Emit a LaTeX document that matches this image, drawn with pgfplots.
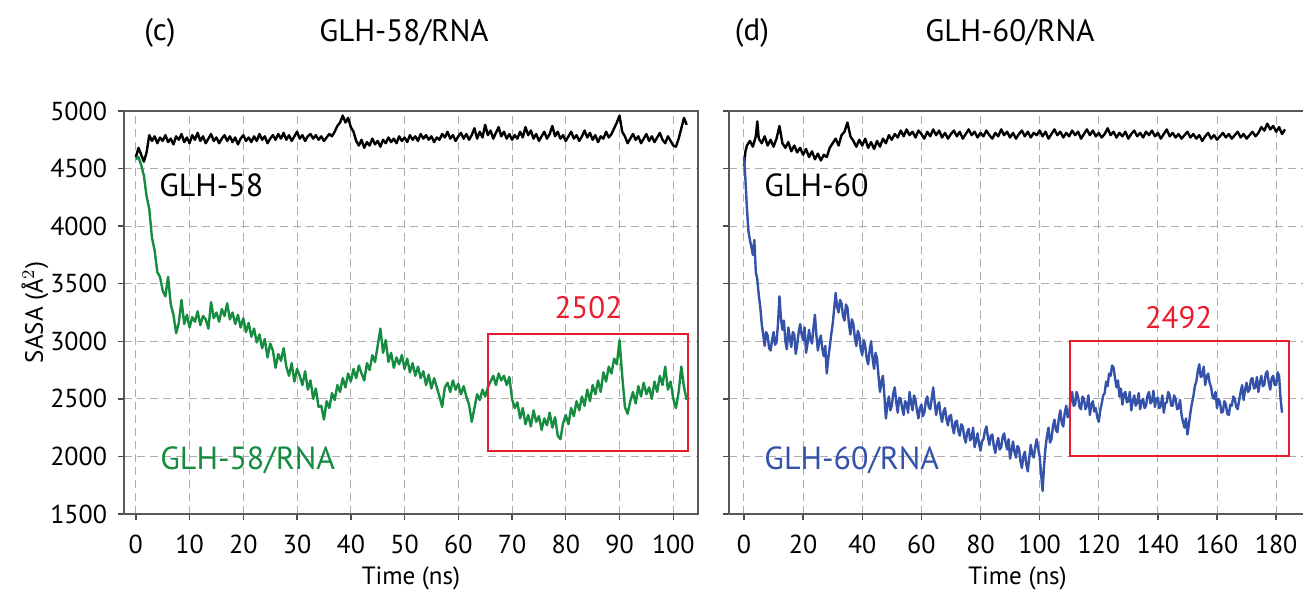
\documentclass[border=0pt]{standalone}
\usepackage{fontspec}
\setmainfont{PT Sans}
\usepackage{pgfplots}
\pgfplotsset{compat=1.18}

\definecolor{glhgreen}{RGB}{22,140,64}
\definecolor{glhblue}{RGB}{52,82,170}
\definecolor{boxred}{RGB}{232,30,48}

\pgfplotsset{
  sasa/.style={
    scale only axis,
    height=201.5pt,
    ymin=1500, ymax=5000,
    ytick={1500,2000,2500,3000,3500,4000,4500,5000},
    axis line style={black!65, line width=0.8pt},
    tick style={black!70, line width=0.7pt},
    tick align=outside,
    major tick length=3pt,
    xtick pos=bottom, ytick pos=left,
    grid=major,
    grid style={black!32, dash pattern=on 4pt off 2.5pt, line width=0.5pt},
    tick label style={font=\fontsize{13}{15}\selectfont},
    xticklabel style={yshift=-4pt},
    yticklabel style={xshift=-2pt},
    /pgf/number format/assume math mode=true,
    /pgf/number format/1000 sep={},
    xlabel style={font=\fontsize{12.5}{14}\selectfont, at={(axis description cs:0.5,0)}, anchor=center, yshift=-32pt},
    clip=false,
  },
  trace/.style={line width=1.2pt, line join=round},
}

\begin{document}
\begin{tikzpicture}
\useasboundingbox (-62pt,-40pt) rectangle (589.5pt,257pt);

% titles
\node[font=\fontsize{15.5}{17}\selectfont] at (18pt,240.5pt) {(c)};
\node[font=\fontsize{15.5}{17}\selectfont] at (140pt,240.5pt) {GLH-58/RNA};
\node[font=\fontsize{15.5}{17}\selectfont] at (314pt,240.5pt) {(d)};
\node[font=\fontsize{15.5}{17}\selectfont] at (443pt,240.5pt) {GLH-60/RNA};

% (c) GLH-58
\begin{axis}[sasa,
  at={(0pt,0pt)}, anchor=south west,
  width=287pt,
  xmin=-2.2, xmax=104.6,
  xtick={0,10,...,100},
  xlabel={Time (ns)},
  ylabel={SASA (Å$^{2}$)},
  ylabel style={font=\fontsize{12.5}{14}\selectfont, at={(axis description cs:0,0.5)}, anchor=center, yshift=44.5pt},
]
\addplot[black, trace] coordinates {
(0,4600)(0.5,4680)(1,4620)(1.5,4560)(2,4640)(2.5,4790)(3,4740)(3.5,4780)(4,4720)(4.5,4770)
(5,4740)(5.5,4790)(6,4730)(6.5,4760)(7,4710)(7.5,4780)(8,4750)(8.5,4800)(9,4730)(9.5,4770)
(10,4720)(10.5,4790)(11,4750)(11.5,4810)(12,4740)(12.5,4780)(13,4720)(13.5,4760)(14,4800)(14.5,4740)
(15,4770)(15.5,4720)(16,4760)(16.5,4790)(17,4740)(17.5,4780)(18,4730)(18.5,4770)(19,4710)(19.5,4760)
(20,4790)(20.5,4740)(21,4770)(21.5,4730)(22,4780)(22.5,4740)(23,4800)(23.5,4750)(24,4780)(24.5,4720)
(25,4760)(25.5,4790)(26,4750)(26.5,4800)(27,4760)(27.5,4810)(28,4750)(28.5,4790)(29,4740)(29.5,4780)
(30,4820)(30.5,4760)(31,4790)(31.5,4740)(32,4780)(32.5,4800)(33,4760)(33.5,4790)(34,4750)(34.5,4780)
(35,4740)(35.5,4770)(36,4800)(36.5,4780)(37,4820)(37.5,4870)(38,4900)(38.5,4960)(39,4900)(39.5,4940)
(40,4860)(40.5,4820)(41,4740)(41.5,4700)(42,4750)(42.5,4680)(43,4730)(43.5,4700)(44,4760)(44.5,4710)
(45,4740)(45.5,4690)(46,4750)(46.5,4720)(47,4770)(47.5,4730)(48,4760)(48.5,4720)(49,4780)(49.5,4740)
(50,4770)(50.5,4730)(51,4790)(51.5,4750)(52,4780)(52.5,4740)(53,4800)(53.5,4760)(54,4790)(54.5,4750)
(55,4780)(55.5,4730)(56,4770)(56.5,4750)(57,4800)(57.5,4770)(58,4820)(58.5,4760)(59,4790)(59.5,4740)
(60,4780)(60.5,4810)(61,4760)(61.5,4800)(62,4750)(62.5,4790)(63,4850)(63.5,4760)(64,4820)(64.5,4770)
(65,4880)(65.5,4790)(66,4830)(66.5,4760)(67,4810)(67.5,4860)(68,4780)(68.5,4820)(69,4760)(69.5,4800)
(70,4750)(70.5,4790)(71,4760)(71.5,4820)(72,4770)(72.5,4860)(73,4790)(73.5,4830)(74,4760)(74.5,4800)
(75,4740)(75.5,4780)(76,4820)(76.5,4760)(77,4800)(77.5,4870)(78,4780)(78.5,4820)(79,4760)(79.5,4790)
(80,4740)(80.5,4780)(81,4820)(81.5,4760)(82,4790)(82.5,4740)(83,4780)(83.5,4830)(84,4770)(84.5,4810)
(85,4750)(85.5,4790)(86,4730)(86.5,4780)(87,4760)(87.5,4820)(88,4770)(88.5,4800)(89,4850)(89.5,4900)
(90,4960)(90.5,4820)(91,4780)(91.5,4720)(92,4760)(92.5,4800)(93,4750)(93.5,4780)(94,4720)(94.5,4760)
(95,4800)(95.5,4740)(96,4780)(96.5,4730)(97,4770)(97.5,4810)(98,4750)(98.5,4720)(99,4780)(99.5,4740)
(100,4700)(100.5,4690)(101,4760)(101.5,4850)(102,4940)(102.5,4880)
};
\addplot[glhgreen, trace] coordinates {
(0,4580)(0.5,4600)(1,4530)(1.5,4440)(2,4260)(2.5,4150)(3,3900)(3.5,3790)(4,3600)(4.5,3560)
(5,3440)(5.5,3390)(6,3560)(6.5,3320)(7,3230)(7.5,3070)(8,3160)(8.5,3360)(9,3150)(9.5,3230)
(10,3120)(10.5,3210)(11,3170)(11.5,3260)(12,3140)(12.5,3220)(13,3190)(13.5,3110)(14,3340)(14.5,3200)
(15,3250)(15.5,3170)(16,3280)(16.5,3220)(17,3330)(17.5,3190)(18,3250)(18.5,3150)(19,3230)(19.5,3120)
(20,3200)(20.5,3080)(21,3160)(21.5,3040)(22,3110)(22.5,2990)(23,3060)(23.5,2940)(24,3020)(24.5,2860)
(25,2980)(25.5,2920)(26,2770)(26.5,2890)(27,2830)(27.5,2940)(28,2780)(28.5,2700)(29,2810)(29.5,2650)
(30,2760)(30.5,2700)(31,2620)(31.5,2740)(32,2580)(32.5,2660)(33,2500)(33.5,2590)(34,2430)(34.5,2440)
(35,2320)(35.5,2480)(36,2420)(36.5,2550)(37,2490)(37.5,2620)(38,2560)(38.5,2680)(39,2600)(39.5,2720)
(40,2650)(40.5,2760)(41,2680)(41.5,2790)(42,2720)(42.5,2660)(43,2810)(43.5,2750)(44,2880)(44.5,2820)
(45,2960)(45.5,3110)(46,2900)(46.5,3010)(47,2820)(47.5,2900)(48,2770)(48.5,2860)(49,2800)(49.5,2880)
(50,2760)(50.5,2850)(51,2730)(51.5,2810)(52,2700)(52.5,2780)(53,2680)(53.5,2740)(54,2620)(54.5,2710)
(55,2590)(55.5,2680)(56,2600)(56.5,2520)(57,2430)(57.5,2600)(58,2640)(58.5,2560)(59,2660)(59.5,2580)
(60,2630)(60.5,2540)(61,2610)(61.5,2520)(62,2450)(62.5,2300)(63,2420)(63.5,2540)(64,2490)(64.5,2580)
(65,2520)(65.5,2600)(66,2650)(66.5,2700)(67,2620)(67.5,2720)(68,2660)(68.5,2700)(69,2620)(69.5,2690)
(70,2500)(70.5,2420)(71,2470)(71.5,2330)(72,2420)(72.5,2280)(73,2360)(73.5,2260)(74,2400)(74.5,2300)
(75,2350)(75.5,2230)(76,2330)(76.5,2270)(77,2380)(77.5,2250)(78,2340)(78.5,2180)(79,2150)(79.5,2290)
(80,2360)(80.5,2280)(81,2420)(81.5,2350)(82,2480)(82.5,2400)(83,2520)(83.5,2440)(84,2580)(84.5,2480)
(85,2620)(85.5,2540)(86,2660)(86.5,2560)(87,2730)(87.5,2650)(88,2780)(88.5,2720)(89,2850)(89.5,2800)
(90,3010)(90.5,2700)(91,2430)(91.5,2370)(92,2480)(92.5,2560)(93,2460)(93.5,2610)(94,2520)(94.5,2640)
(95,2540)(95.5,2600)(96,2500)(96.5,2650)(97,2560)(97.5,2700)(98,2620)(98.5,2780)(99,2580)(99.5,2650)
(100,2500)(100.5,2420)(101,2560)(101.5,2780)(102,2600)(102.5,2490)
};
\draw[boxred, line width=1pt] (axis cs:65.5,2050) rectangle (axis cs:102.8,3060);
\node[boxred, font=\fontsize{15.5}{17}\selectfont] at (axis cs:84.2,3296) {2502};
\node[black, anchor=west, font=\fontsize{16}{18}\selectfont, inner sep=0pt] at (axis cs:4.3,4357) {GLH-58};
\node[glhgreen, anchor=west, font=\fontsize{16}{18}\selectfont, inner sep=0pt] at (axis cs:4.5,1965) {GLH-58/RNA};
\end{axis}

% (d) GLH-60
\begin{axis}[sasa,
  at={(302.5pt,0pt)}, anchor=south west,
  width=288.5pt,
  xmin=-5.07, xmax=190.1,
  xtick={0,20,...,180},
  yticklabels={},
  xlabel={Time (ns)},
]
\addplot[black, trace] coordinates {
(0,4520)(0.5,4650)(1,4700)(2,4740)(3,4690)(4,4780)(4.5,4910)(5,4760)(6,4720)(7,4780)
(8,4700)(9,4750)(10,4690)(11,4760)(12,4870)(13,4720)(14,4680)(15,4730)(16,4650)(17,4700)
(18,4640)(19,4680)(20,4620)(21,4670)(22,4600)(23,4650)(24,4580)(25,4630)(26,4570)(27,4620)
(28,4600)(29,4680)(30,4720)(31,4760)(32,4700)(33,4790)(34,4820)(35,4900)(36,4780)(37,4740)
(38,4690)(39,4750)(40,4700)(41,4760)(42,4680)(43,4730)(44,4670)(45,4740)(46,4690)(47,4760)
(48,4720)(49,4790)(50,4750)(51,4800)(52,4770)(53,4830)(54,4780)(55,4840)(56,4790)(57,4820)
(58,4770)(59,4830)(60,4800)(61,4760)(62,4820)(63,4780)(64,4840)(65,4790)(66,4830)(67,4770)
(68,4810)(69,4760)(70,4800)(71,4830)(72,4780)(73,4820)(74,4760)(75,4800)(76,4840)(77,4790)
(78,4820)(79,4770)(80,4810)(81,4780)(82,4830)(83,4790)(84,4760)(85,4810)(86,4780)(87,4840)
(88,4790)(89,4820)(90,4770)(91,4810)(92,4760)(93,4800)(94,4830)(95,4780)(96,4820)(97,4770)
(98,4810)(99,4790)(100,4830)(101,4780)(102,4820)(103,4760)(104,4800)(105,4840)(106,4790)(107,4820)
(108,4770)(109,4810)(110,4780)(111,4830)(112,4790)(113,4820)(114,4760)(115,4800)(116,4840)(117,4790)
(118,4830)(119,4780)(120,4810)(121,4770)(122,4800)(123,4850)(124,4790)(125,4820)(126,4770)(127,4810)
(128,4780)(129,4820)(130,4760)(131,4800)(132,4830)(133,4780)(134,4810)(135,4770)(136,4820)(137,4790)
(138,4830)(139,4780)(140,4810)(141,4760)(142,4800)(143,4840)(144,4780)(145,4810)(146,4770)(147,4800)
(148,4760)(149,4790)(150,4820)(151,4770)(152,4800)(153,4760)(154,4790)(155,4740)(156,4780)(157,4810)
(158,4760)(159,4790)(160,4750)(161,4780)(162,4810)(163,4770)(164,4800)(165,4760)(166,4790)(167,4820)
(168,4770)(169,4800)(170,4760)(171,4790)(172,4820)(173,4780)(174,4810)(175,4860)(176,4830)(177,4890)
(178,4840)(179,4870)(180,4820)(181,4860)(182,4800)(183,4840)
};
\addplot[glhblue, trace] coordinates {
(0,4600)(0.5,4400)(1,4150)(1.5,3960)(2,3880)(2.5,3820)(3,3750)(3.5,3880)(4,3600)(4.5,3540)
(5,3400)(5.5,3300)(6,3150)(6.5,3060)(7,2960)(7.5,3080)(8,3050)(8.5,2940)(9,2920)(9.5,3010)
(10,3080)(10.5,2970)(11,2990)(11.5,3150)(12,3390)(12.5,3200)(13,3100)(13.5,3180)(14,3000)(14.5,2930)
(15,3120)(15.5,3030)(16,2950)(16.5,3080)(17,3060)(17.5,2890)(18,2970)(18.5,3080)(19,3150)(19.5,3060)
(20,3010)(20.5,3120)(21,2900)(21.5,2980)(22,3100)(22.5,3020)(23,2980)(23.5,3120)(24,3230)(24.5,3050)
(25,2920)(25.5,3010)(26,3050)(26.5,2930)(27,2870)(27.5,2960)(28,2720)(28.5,2850)(29,2950)(29.5,3060)
(30,3150)(30.5,3280)(31,3420)(31.5,3300)(32,3250)(32.5,3360)(33,3330)(33.5,3220)(34,3180)(34.5,3320)
(35,3290)(35.5,3150)(36,3060)(36.5,3190)(37,3150)(37.5,3030)(38,2960)(38.5,3090)(39,3050)(39.5,2930)
(40,2880)(40.5,3010)(41,2960)(41.5,2850)(42,2800)(42.5,2920)(43,3000)(43.5,2850)(44,2760)(44.5,2900)
(45,2850)(45.5,2700)(46,2560)(46.5,2650)(47,2700)(47.5,2520)(48,2330)(48.5,2450)(49,2520)(49.5,2400)
(50,2440)(50.5,2550)(51,2600)(51.5,2470)(52,2380)(52.5,2510)(53,2500)(53.5,2420)(54,2360)(54.5,2480)
(55,2460)(55.5,2380)(56,2560)(56.5,2470)(57,2400)(57.5,2530)(58,2490)(58.5,2400)(59,2330)(59.5,2420)
(60,2450)(60.5,2350)(61,2380)(61.5,2480)(62,2520)(62.5,2430)(63,2410)(63.5,2500)(64,2600)(64.5,2470)
(65,2360)(65.5,2440)(66,2470)(66.5,2360)(67,2300)(67.5,2390)(68,2420)(68.5,2320)(69,2270)(69.5,2350)
(70,2360)(70.5,2260)(71,2200)(71.5,2300)(72,2310)(72.5,2220)(73,2180)(73.5,2280)(74,2260)(74.5,2170)
(75,2120)(75.5,2210)(76,2240)(76.5,2140)(77,2160)(77.5,2250)(78,2080)(78.5,2130)(79,2200)(79.5,2110)
(80,2050)(80.5,2130)(81,2150)(81.5,2220)(82,2260)(82.5,2170)(83,2100)(83.5,2180)(84,2190)(84.5,2090)
(85,2030)(85.5,2110)(86,2160)(86.5,2060)(87,2080)(87.5,2170)(88,2200)(88.5,2120)(89,2060)(89.5,2150)
(90,1980)(90.5,2050)(91,2130)(91.5,2040)(92,1990)(92.5,2090)(93,2070)(93.5,1960)(94,1900)(94.5,2000)
(95,2040)(95.5,1930)(96,1870)(96.5,1990)(97,2100)(97.5,2020)(98,1990)(98.5,2080)(99,2150)(99.5,2070)
(100,2000)(100.5,1850)(101,1700)(101.5,1920)(102,2080)(102.5,2180)(103,2250)(103.5,2120)(104,2150)(104.5,2260)
(105,2320)(105.5,2230)(106,2210)(106.5,2330)(107,2400)(107.5,2290)(108,2260)(108.5,2380)(109,2440)(109.5,2340)
(110,2380)(110.5,2500)(111,2560)(111.5,2440)(112,2450)(112.5,2560)(113,2520)(113.5,2430)(114,2410)(114.5,2520)
(115,2500)(115.5,2410)(116,2440)(116.5,2530)(117,2360)(117.5,2450)(118,2480)(118.5,2390)(119,2420)(119.5,2340)
(120,2300)(120.5,2400)(121,2460)(121.5,2530)(122,2550)(122.5,2650)(123,2610)(123.5,2720)(124,2700)(124.5,2790)
(125,2770)(125.5,2680)(126,2600)(126.5,2660)(127,2520)(127.5,2590)(128,2450)(128.5,2540)(129,2560)(129.5,2470)
(130,2480)(130.5,2560)(131,2400)(131.5,2480)(132,2530)(132.5,2440)(133,2470)(133.5,2550)(134,2410)(134.5,2480)
(135,2500)(135.5,2420)(136,2440)(136.5,2530)(137,2560)(137.5,2460)(138,2480)(138.5,2570)(139,2430)(139.5,2500)
(140,2510)(140.5,2420)(141,2440)(141.5,2530)(142,2380)(142.5,2460)(143,2470)(143.5,2560)(144,2530)(144.5,2440)
(145,2440)(145.5,2530)(146,2500)(146.5,2410)(147,2420)(147.5,2490)(148,2360)(148.5,2300)(149,2250)(149.5,2330)
(150,2190)(150.5,2280)(151,2380)(151.5,2460)(152,2520)(152.5,2610)(153,2650)(153.5,2740)(154,2800)(154.5,2690)
(155,2700)(155.5,2780)(156,2620)(156.5,2690)(157,2720)(157.5,2640)(158,2600)(158.5,2520)(159,2500)(159.5,2560)
(160,2420)(160.5,2500)(161,2470)(161.5,2380)(162,2390)(162.5,2480)(163,2450)(163.5,2370)(164,2360)(164.5,2450)
(165,2440)(165.5,2520)(166,2500)(166.5,2430)(167,2410)(167.5,2490)(168,2560)(168.5,2620)(169,2490)(169.5,2580)
(170,2640)(170.5,2560)(171,2580)(171.5,2670)(172,2680)(172.5,2590)(173,2600)(173.5,2690)(174,2560)(174.5,2640)
(175,2700)(175.5,2610)(176,2620)(176.5,2720)(177,2740)(177.5,2640)(178,2580)(178.5,2680)(179,2700)(179.5,2620)
(180,2620)(180.5,2730)(181,2700)(181.5,2500)(182,2380)
};
\draw[boxred, line width=1pt] (axis cs:110.3,2000) rectangle (axis cs:184.4,3000);
\node[boxred, font=\fontsize{15.5}{17}\selectfont] at (axis cs:147,3209) {2492};
\node[black, anchor=west, font=\fontsize{16}{18}\selectfont, inner sep=0pt] at (axis cs:6.8,4357) {GLH-60};
\node[glhblue, anchor=west, font=\fontsize{16}{18}\selectfont, inner sep=0pt] at (axis cs:6.8,1965) {GLH-60/RNA};
\end{axis}
\end{tikzpicture}
\end{document}
